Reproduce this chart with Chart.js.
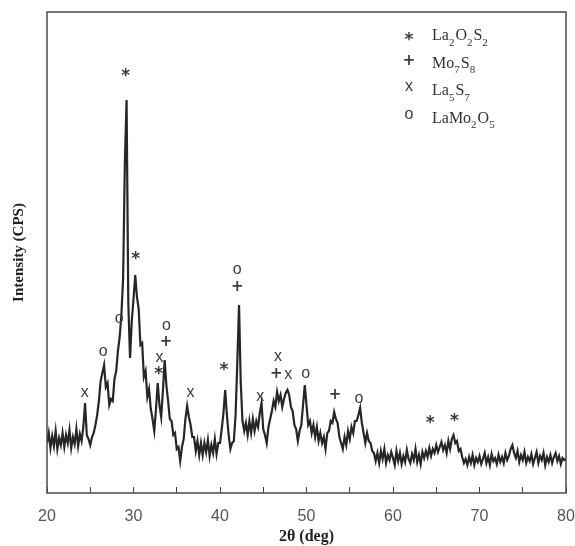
<!DOCTYPE html>
<html>
<head>
<meta charset="utf-8">
<script src="https://cdn.jsdelivr.net/npm/chart.js@4.4.1/dist/chart.umd.min.js"></script>
<style>
  html, body { margin: 0; padding: 0; background: #fff; }
  #wrap { width: 575px; height: 546px; }
</style>
</head>
<body>
<div id="wrap"><canvas id="xrdChart" width="575" height="546"></canvas></div>
<script>
// XRD pattern, 2theta 20..80 deg, one reading every 0.2 deg
const angleStart = 20;
const angleStep = 0.2;
const intensity = [
    50, 60, 45, 57, 47, 62, 44, 55, 48, 60,      // 20
    46, 58, 50, 63, 45, 56, 49, 64, 47, 59,      // 22
    52, 66, 90, 58, 54, 48, 56, 60, 68, 78,      // 24
    92, 112, 120, 128, 106, 110, 88, 94, 92, 114, // 26
    122, 142, 156, 178, 215, 330, 393, 190, 135, 172, // 28
    194, 218, 196, 184, 148, 150, 116, 122, 96, 104, // 30
    84, 74, 62, 84, 110, 88, 76, 102, 133, 108,  // 32
    92, 74, 72, 58, 60, 44, 46, 32, 46, 54,      // 34
    74, 87, 76, 68, 56, 56, 42, 52, 38, 50,      // 36
    38, 50, 41, 53, 37, 48, 40, 54, 39, 50,      // 38
    50, 64, 80, 103, 78, 58, 44, 50, 52, 78,     // 40
    130, 188, 110, 72, 62, 70, 58, 72, 60, 74,   // 42
    62, 72, 66, 80, 90, 64, 58, 50, 66, 74,      // 44
    82, 92, 86, 101, 92, 98, 86, 94, 100, 103,   // 46
    98, 86, 82, 68, 64, 52, 62, 68, 88, 108,     // 48
    88, 68, 72, 60, 68, 56, 66, 52, 60, 50,      // 50
    56, 44, 60, 62, 72, 70, 81, 74, 70, 56,      // 52
    50, 44, 56, 48, 62, 54, 66, 60, 72, 72,      // 54
    78, 85, 70, 60, 50, 60, 52, 50, 42, 40,      // 56
    32, 40, 30, 42, 34, 44, 30, 38, 33, 41,      // 58
    35, 28, 42, 32, 40, 29, 37, 31, 43, 34,      // 60
    30, 39, 33, 44, 31, 38, 29, 41, 35, 42,      // 62
    36, 45, 37, 44, 40, 48, 41, 46, 51, 43,      // 64
    48, 40, 52, 44, 54, 58, 50, 52, 42, 44,      // 66
    36, 30, 34, 28, 36, 30, 38, 28, 35, 31,      // 68
    37, 29, 34, 40, 30, 36, 28, 39, 32, 35,      // 70
    29, 38, 31, 36, 30, 40, 33, 37, 44, 48,      // 72
    40, 35, 42, 31, 38, 33, 41, 30, 36, 32,      // 74
    39, 29, 35, 41, 30, 37, 33, 40, 28, 36,      // 76
    31, 38, 30, 36, 40, 32, 37, 29, 35, 33,      // 78
    34                                           // 80
];

// peak assignment markers
const markerAngles  = [24.35, 26.5, 28.35, 29.1, 30.26, 32.9, 33.0, 33.75, 33.8, 36.6, 40.45, 42.0, 42.0, 44.65, 46.5, 46.7, 47.9, 49.9, 53.3, 56.05, 64.3, 67.1];
const markerHeights = [101, 142, 175, 421, 238, 123, 136, 153, 168, 101, 127, 208, 224, 97, 121, 137, 119, 120, 100, 95, 74, 76];
const markerSymbols = ['x', 'o', 'o', '*', '*', '*', 'x', '+', 'o', 'x', '*', '+', 'o', 'x', '+', 'x', 'x', 'o', '+', 'o', '*', '*'];

const legendSymbols = ['*', '+', 'x', 'o'];
const legendNames = ['La2O2S2', 'Mo7S8', 'La5S7', 'LaMo2O5'];

const points = intensity.map((v, i) => ({ x: angleStart + i * angleStep, y: v }));

const symbolFonts = {
    '*': 'bold 17px "DejaVu Sans"',
    '+': 'bold 15px "DejaVu Sans"',
    'x': '16px "Liberation Sans"',
    'o': '16px "Liberation Sans"'
};

function drawSymbol(ctx, s, x, y) {
    ctx.font = symbolFonts[s];
    const m = ctx.measureText(s);
    ctx.textAlign = 'center';
    ctx.textBaseline = 'alphabetic';
    ctx.fillText(s, x, y + (m.actualBoundingBoxAscent - m.actualBoundingBoxDescent) / 2);
}

// digits in the formulas are subscripts
function drawFormula(ctx, text, x, y) {
    let cx = x;
    ctx.textAlign = 'left';
    ctx.textBaseline = 'middle';
    for (const ch of text) {
        const sub = /[0-9]/.test(ch);
        ctx.font = sub ? '11px "Liberation Serif"' : '16px "Liberation Serif"';
        ctx.fillText(ch, cx, sub ? y + 7 : y);
        cx += ctx.measureText(ch).width + (sub ? 1 : 0);
    }
}

const annotatePlugin = {
    id: 'annotate',
    afterDraw(chart) {
        const { ctx, chartArea: a, scales } = chart;
        ctx.save();
        ctx.strokeStyle = '#4a4a4a';
        ctx.lineWidth = 1.5;
        ctx.strokeRect(a.left, a.top, a.right - a.left, a.bottom - a.top);

        ctx.fillStyle = '#3a3a3a';
        markerSymbols.forEach((s, i) => {
            drawSymbol(ctx, s, scales.x.getPixelForValue(markerAngles[i]), scales.y.getPixelForValue(markerHeights[i]));
        });

        const lx = a.right - 157;
        legendSymbols.forEach((s, i) => {
            const ly = a.top + 24 + i * 27.5;
            ctx.fillStyle = '#3a3a3a';
            drawSymbol(ctx, s, lx, ly);
            ctx.fillStyle = '#333';
            drawFormula(ctx, legendNames[i], lx + 23, ly);
        });
        ctx.restore();
    }
};

new Chart(document.getElementById('xrdChart').getContext('2d'), {
    type: 'line',
    data: {
        datasets: [{
            data: points,
            borderColor: '#262626',
            borderWidth: 2.2,
            pointRadius: 0,
            tension: 0,
            fill: false
        }]
    },
    options: {
        responsive: false,
        animation: false,
        layout: { padding: { left: 6, right: 9, top: 12, bottom: 0 } },
        plugins: { legend: { display: false }, tooltip: { enabled: false } },
        scales: {
            x: {
                type: 'linear',
                min: 20,
                max: 80,
                afterFit: s => { s.height = 53; s.paddingLeft = 0; s.paddingRight = 0; },
                border: { display: false },
                grid: { drawOnChartArea: false, drawTicks: true, tickLength: -6, color: '#444', lineWidth: 1 },
                ticks: {
                    stepSize: 5,
                    autoSkip: false,
                    maxRotation: 0,
                    padding: 20,
                    color: '#555',
                    font: { family: 'Liberation Sans', size: 16 },
                    callback: v => (v % 10 === 0 ? v : '')
                },
                title: {
                    display: true,
                    text: '2θ (deg)',
                    color: '#222',
                    padding: { top: 0, bottom: 0 },
                    font: { family: 'Liberation Serif', size: 16, weight: 'bold' }
                }
            },
            y: {
                min: 0,
                max: 481,
                afterFit: s => { s.width = 41; s.paddingTop = 0; s.paddingBottom = 0; },
                border: { display: false },
                grid: { display: false },
                ticks: { display: false },
                title: {
                    display: true,
                    text: 'Intensity (CPS)',
                    color: '#222',
                    padding: { top: 4, bottom: 4 },
                    font: { family: 'Liberation Serif', size: 15, weight: 'bold' }
                }
            }
        }
    },
    plugins: [annotatePlugin]
});
</script>
</body>
</html>
